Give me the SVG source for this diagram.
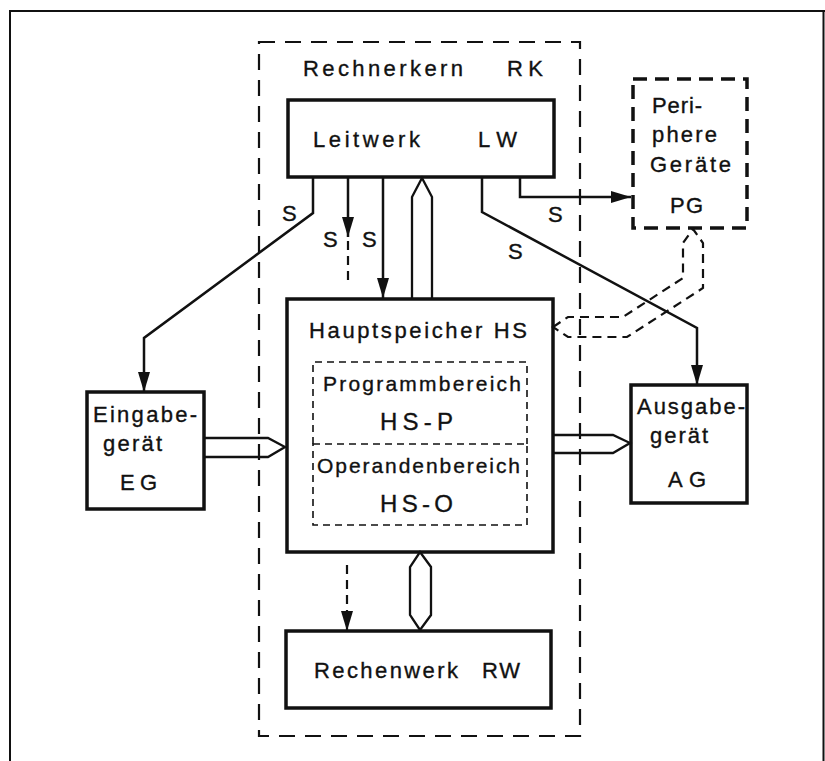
<svg xmlns="http://www.w3.org/2000/svg" width="825" height="761" viewBox="0 0 825 761">
<style>
text{font-family:"Liberation Sans",Arial,sans-serif;font-size:22px;fill:#111;stroke:#111;stroke-width:0.35}
.box{fill:none;stroke:#111;stroke-width:3.5}
.rk{fill:none;stroke:#111;stroke-width:2.2;stroke-dasharray:16 10}
.pg{fill:none;stroke:#111;stroke-width:3.5;stroke-dasharray:14 8}
.inner{fill:none;stroke:#111;stroke-width:1.6;stroke-dasharray:7 5}
.ln{fill:none;stroke:#111;stroke-width:2.5}
.dl{fill:none;stroke:#111;stroke-width:2.2;stroke-dasharray:9 6}
.bus{fill:none;stroke:#111;stroke-width:2.3}
.sm{font-size:21px}
.lg{font-size:24px}
</style>
<defs>
<marker id="ah" viewBox="0 0 20 12" markerWidth="20" markerHeight="12" refX="20" refY="6" orient="auto" markerUnits="userSpaceOnUse">
<path d="M0,0 L20,6 L0,12 Z" fill="#111"/>
</marker>
</defs>
<rect width="825" height="761" fill="#fff"/>
<g id="frame" fill="none" stroke="#111" stroke-width="2">
<path d="M10,761 V11 H825"/>
<path d="M823.5,11 V761"/>
</g>
<g id="RK">
<rect class="rk" x="259" y="42" width="321" height="694"/>
<text x="303" y="76" textLength="160" lengthAdjust="spacing">Rechnerkern</text>
<text x="507" y="76" textLength="36" lengthAdjust="spacing">RK</text>
</g>
<g id="LW">
<rect class="box" x="288" y="100" width="266" height="77"/>
<text x="313" y="147" textLength="107" lengthAdjust="spacing">Leitwerk</text>
<text x="478" y="147" textLength="39" lengthAdjust="spacing">LW</text>
</g>
<g id="HS">
<rect class="box" x="287" y="299" width="266" height="253"/>
<text x="309" y="338" textLength="218" lengthAdjust="spacing">Hauptspeicher HS</text>
</g>
<g id="HS-P">
<path class="inner" d="M313,444 V362 H527 V444"/>
<text class="sm" x="323" y="391" textLength="198" lengthAdjust="spacing">Programmbereich</text>
<text class="lg" x="380" y="430" textLength="73" lengthAdjust="spacing">HS-P</text>
</g>
<g id="HS-O">
<path class="inner" d="M313,444 H527 V525 H313 Z"/>
<text class="sm" x="317" y="473" textLength="203" lengthAdjust="spacing">Operandenbereich</text>
<text class="lg" x="380" y="512" textLength="73" lengthAdjust="spacing">HS-O</text>
</g>
<g id="RW">
<rect class="box" x="286" y="631" width="265" height="77"/>
<text x="314" y="678" textLength="144" lengthAdjust="spacing">Rechenwerk</text>
<text x="482" y="678" textLength="38" lengthAdjust="spacing">RW</text>
</g>
<g id="EG">
<rect class="box" x="87" y="392" width="117" height="117"/>
<text x="93" y="422" textLength="104" lengthAdjust="spacing">Eingabe-</text>
<text x="103" y="451" textLength="59" lengthAdjust="spacing">gerät</text>
<text x="120" y="490" textLength="37" lengthAdjust="spacing">EG</text>
</g>
<g id="AG">
<rect class="box" x="631" y="385" width="116" height="118"/>
<text x="637" y="414" textLength="108" lengthAdjust="spacing">Ausgabe-</text>
<text x="650" y="443" textLength="58" lengthAdjust="spacing">gerät</text>
<text x="668" y="487" textLength="38" lengthAdjust="spacing">AG</text>
</g>
<g id="PG">
<rect class="pg" x="633" y="79" width="114" height="149"/>
<text x="652" y="113" textLength="50" lengthAdjust="spacing">Peri-</text>
<text x="652" y="142" textLength="65" lengthAdjust="spacing">phere</text>
<text x="650" y="172" textLength="81" lengthAdjust="spacing">Geräte</text>
<text x="670" y="213" textLength="33" lengthAdjust="spacing">PG</text>
</g>
<g id="connectors">
<polyline class="ln" points="313,177 313,213 144,338 144,392" marker-end="url(#ah)"/>
<polyline class="ln" points="348,177 348,237" marker-end="url(#ah)"/>
<line class="dl" x1="348" y1="241" x2="348" y2="284"/>
<polyline class="ln" points="383,177 383,298" marker-end="url(#ah)"/>
<path class="bus" d="M412,298 V197 L422,178 L432,197 V298"/>
<polyline class="ln" points="482,177 482,212 697,328 697,385" marker-end="url(#ah)"/>
<polyline class="ln" points="520,177 520,197 631,197" marker-end="url(#ah)"/>
<path class="dl" d="M553,327 L568,317 H623 L683,278 V243 L693,229 L703,243 V288 L627,337 H568 Z"/>
<path class="bus" d="M204,438 H268 L285,447 L268,457 H204"/>
<path class="bus" d="M553,435 H613 L630,443 L613,453 H553"/>
<path class="bus" d="M420,552 L431,567 V615 L420,630 L410,615 V567 Z"/>
<polyline class="dl" points="347,565 347,631" marker-end="url(#ah)"/>
<text x="282" y="221" textLength="15" lengthAdjust="spacing">S</text>
<text x="323" y="247" textLength="15" lengthAdjust="spacing">S</text>
<text x="362" y="247" textLength="15" lengthAdjust="spacing">S</text>
<text x="508" y="259" textLength="15" lengthAdjust="spacing">S</text>
<text x="548" y="222" textLength="15" lengthAdjust="spacing">S</text>
</g>
</svg>
